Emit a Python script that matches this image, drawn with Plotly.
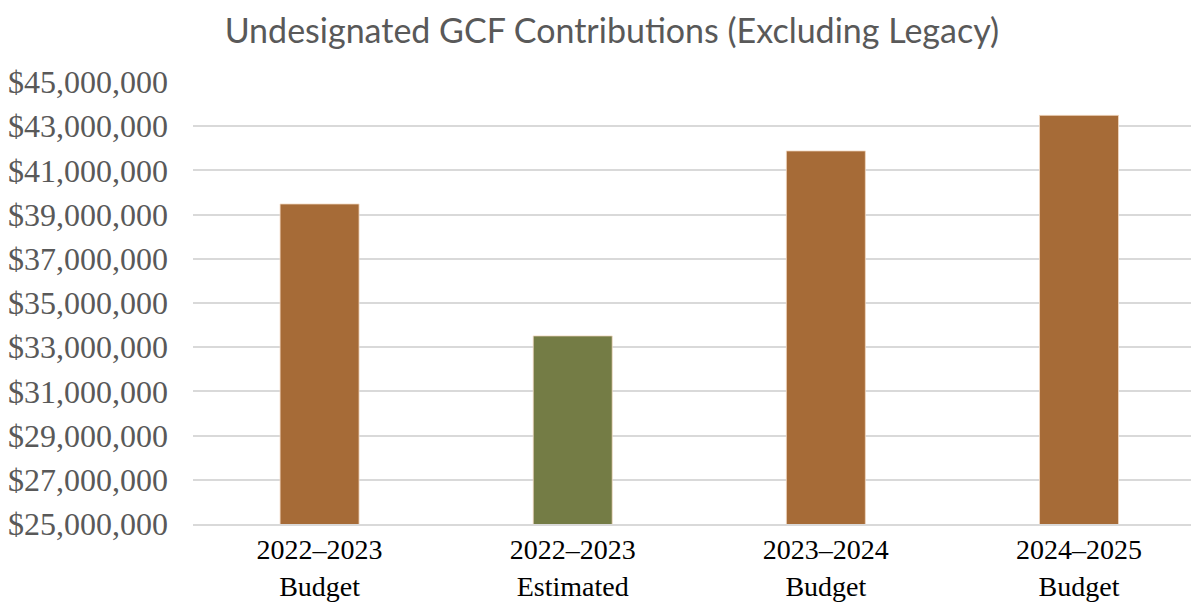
import plotly.graph_objects as go

categories = ["2022–2023<br>Budget", "2022–2023<br>Estimated", "2023–2024<br>Budget", "2024–2025<br>Budget"]
values = [39480000, 33510000, 41880000, 43490000]
bar_colors = ["#A66B37", "#747C45", "#A66B37", "#A66B37"]
y_ticks = list(range(25000000, 45000001, 2000000))

fig = go.Figure()
fig.add_trace(go.Bar(
    x=categories, y=values,
    marker=dict(color=bar_colors, line=dict(color="#F3D9C3", width=0.8)),
    width=0.312,
))

# the page body has an 8px margin, so the figure is offset by (8, 8)
fig.update_layout(
    width=1191, height=603,
    margin=dict(l=185, r=0, t=74, b=87),
    paper_bgcolor="white", plot_bgcolor="white",
    showlegend=False,
    title=dict(
        text="Undesignated GCF Contributions (Excluding Legacy)",
        x=0.507, xanchor="center", y=0.962, yanchor="middle",
        font=dict(family="Lato", size=34, color="#595959"),
    ),
)
fig.update_yaxes(
    range=[25000000, 45000000], tickvals=y_ticks, tickformat="$,.0f",
    showgrid=True, gridcolor="#D9D9D9", gridwidth=1.5,
    zeroline=False, showline=False, ticks="",
    tickfont=dict(family="Liberation Serif", size=32, color="#595959"),
    ticklabelstandoff=24,
)
# the chart's plot area runs a little past the right edge of the picture
fig.update_xaxes(
    range=[-0.5, 3.474],
    showline=True, linecolor="#D9D9D9", linewidth=1.5, ticks="",
    tickfont=dict(family="Liberation Serif", size=28, color="black"),
)

fig.write_html("out.html")
